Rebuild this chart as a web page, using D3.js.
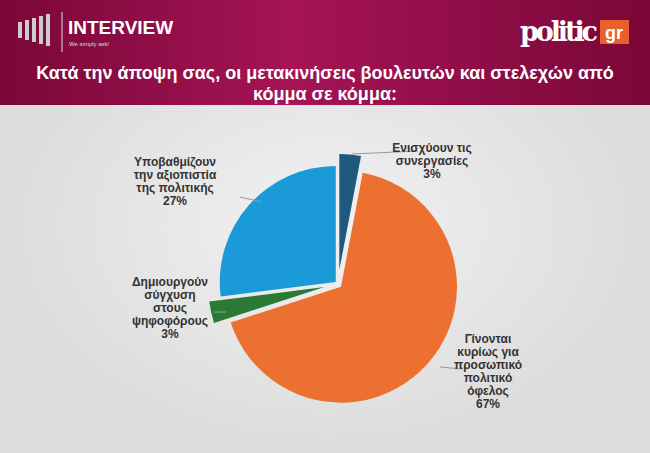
<!DOCTYPE html><html><head><meta charset="utf-8"><script src="https://cdn.jsdelivr.net/npm/d3@7"></script>
<style>body{margin:0}svg{display:block;font-family:"Liberation Sans",Arial,sans-serif}</style></head><body><svg width="650" height="453"></svg>
<script>
const categories=["Ενισχύουν τις συνεργασίες","Γίνονται κυρίως για προσωπικό πολιτικό όφελος","Δημιουργούν σύγχυση στους ψηφοφόρους","Υποβαθμίζουν την αξιοπιστία της πολιτικής"];
const values=[3,67,3,27];
const labelLines=[["Ενισχύουν τις","συνεργασίες","3%"],["Γίνονται","κυρίως για","προσωπικό","πολιτικό","όφελος","67%"],["Δημιουργούν","σύγχυση","στους","ψηφοφόρους","3%"],["Υποβαθμίζουν","την αξιοπιστία","της πολιτικής","27%"]];
const colors=["#1d5a7e","#ec7130","#2a7a35","#1a9ad6"];
const offsets=[14,4,14,3];
const labelPos=[[432,152],[488,343],[170,286],[175,166]];
const lineEnds=[[[352,154],[418,151]],[[440,367],[462,369]],[[214,312],[226,312]],[[240,197],[262,202]]];
const svg=d3.select("svg");
const defs=svg.append("defs");
const bg=defs.append("radialGradient").attr("id","bg");
bg.append("stop").attr("offset","0").attr("stop-color","#f2f2f2");
bg.append("stop").attr("offset","1").attr("stop-color","#dcdcdc");
svg.append("rect").attr("width",650).attr("height",453).attr("fill","url(#bg)");
const hg=defs.append("linearGradient").attr("id","hg");
hg.append("stop").attr("offset","0").attr("stop-color","#7a0738");
hg.append("stop").attr("offset","0.45").attr("stop-color","#a51456");
hg.append("stop").attr("offset","1").attr("stop-color","#7a0738");
svg.append("rect").attr("width",650).attr("height",105).attr("fill","url(#hg)");
[0,1,2,3,4].forEach(i=>svg.append("rect").attr("x",18+i*7).attr("y",22-i*2).attr("width",4).attr("height",16+i*4).attr("fill","#ccc"));
svg.append("line").attr("x1",62).attr("x2",62).attr("y1",12).attr("y2",52).attr("stroke","#ddd");
svg.append("text").attr("x",68).attr("y",34).attr("fill","#fff").attr("font-size",19).attr("font-weight","bold").text("INTERVIEW");
svg.append("text").attr("x",69).attr("y",46).attr("fill","#ddd").attr("font-size",6).text("We simply ask!");
svg.append("text").attr("x",520).attr("y",41).attr("fill","#fff").attr("font-size",27).attr("font-weight","bold").attr("font-family","DejaVu Serif").attr("textLength",78).text("politic");
svg.append("rect").attr("x",600).attr("y",20).attr("width",29).attr("height",24).attr("fill","#e8602c");
svg.append("text").attr("x",614).attr("y",39).attr("fill","#fff").attr("font-size",18).attr("font-weight","bold").attr("text-anchor","middle").text("gr");
svg.append("text").attr("x",325).attr("y",79).attr("fill","#fff").attr("font-size",18).attr("font-weight","bold").attr("text-anchor","middle").text("Κατά την άποψη σας, οι μετακινήσεις βουλευτών και στελεχών από");
svg.append("text").attr("x",325).attr("y",100).attr("fill","#fff").attr("font-size",18).attr("font-weight","bold").attr("text-anchor","middle").text("κόμμα σε κόμμα:");
const cx=338,cy=284,r=116;
const pie=d3.pie().sort(null).value(d=>d)(values);
const arc=d3.arc().innerRadius(0).outerRadius(r);
const g=svg.append("g").attr("transform",`translate(${cx},${cy})`);
g.selectAll("path").data(pie).join("path").attr("d",arc).attr("fill",(d,i)=>colors[i])
 .attr("transform",(d,i)=>{const a=(d.startAngle+d.endAngle)/2;return `translate(${Math.sin(a)*offsets[i]},${-Math.cos(a)*offsets[i]})`;});
lineEnds.forEach(l=>svg.append("line").attr("x1",l[0][0]).attr("y1",l[0][1]).attr("x2",l[1][0]).attr("y2",l[1][1]).attr("stroke","#999").attr("stroke-width",1));
labelLines.forEach((ls,i)=>{const t=svg.append("text").attr("x",labelPos[i][0]).attr("y",labelPos[i][1]).attr("font-size",12).attr("font-weight","bold").attr("fill","#333").attr("text-anchor","middle");
 ls.forEach((s,j)=>t.append("tspan").attr("x",labelPos[i][0]).attr("dy",j?13:0).text(s));});
</script></body></html>
